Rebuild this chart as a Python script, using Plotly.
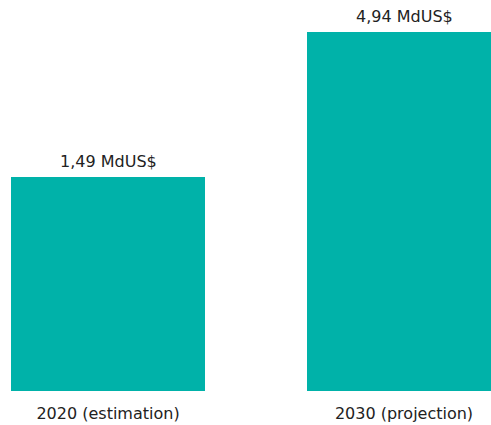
import plotly.graph_objects as go

categories = ["2020 (estimation)", "2030 (projection)"]
values = [1.49, 4.94]
value_labels = ["1,49 MdUS$", "4,94 MdUS$"]

# visual baseline used by the original (bars are not drawn from zero)
axis_floor = -3.6

xpos = list(range(len(categories)))

fig = go.Figure()
fig.add_trace(go.Bar(
    x=xpos,
    y=[v - axis_floor for v in values],
    base=axis_floor,
    width=0.655,
    marker=dict(color="#00b2a9", line=dict(width=0)),
    hoverinfo="skip",
))

for x, v, t in zip(xpos, values, value_labels):
    fig.add_annotation(x=x, y=v, text=t, showarrow=False, yanchor="bottom",
                       yshift=4, font=dict(size=16, color="#222222"))

fig.update_layout(
    width=491, height=425,
    margin=dict(l=0, r=0, t=0, b=34),
    paper_bgcolor="white", plot_bgcolor="white",
    font=dict(family="DejaVu Sans, sans-serif", size=16, color="#222222"),
    showlegend=False,
    bargap=0,
    xaxis=dict(range=[-0.3649, 1.2939], tickvals=xpos, ticktext=categories,
               showgrid=False, zeroline=False, showline=False, ticks="",
               ticklabelstandoff=11,
               tickfont=dict(size=16, color="#222222")),
    yaxis=dict(range=[axis_floor, 5.70], visible=False, showgrid=False, zeroline=False),
)

fig.write_html("out.html", config={"displayModeBar": False},
               post_script="document.body.style.margin='0px';")
